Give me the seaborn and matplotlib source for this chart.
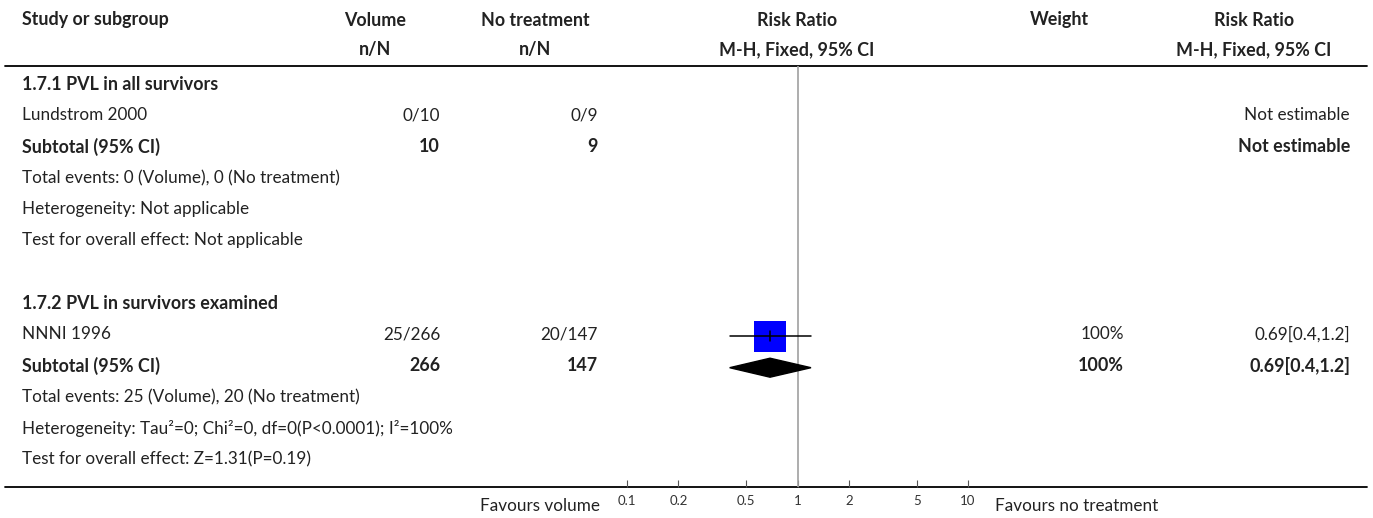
import numpy as np
import pandas as pd
import matplotlib
matplotlib.use("Agg")
import matplotlib.pyplot as plt
import seaborn as sns
from matplotlib.patches import Polygon

sns.set_style("white")
plt.rcParams['font.family'] = ['Lato', 'DejaVu Sans']

# ---------------- data ----------------
headers1 = ["Study or subgroup", "Volume", "No treatment", "Risk Ratio", "Weight", "Risk Ratio"]
headers2 = ["", "n/N", "n/N", "M-H, Fixed, 95% CI", "", "M-H, Fixed, 95% CI"]

group_titles = ["1.7.1 PVL in all survivors", "1.7.2 PVL in survivors examined"]
studies = ["Lundstrom 2000", "NNNI 1996"]
vol_events = [0, 25]
vol_total = [10, 266]
ctl_events = [0, 20]
ctl_total = [9, 147]
study_rr = [np.nan, 0.69]
study_lo = [np.nan, 0.4]
study_hi = [np.nan, 1.2]
study_weight = ["", "100%"]
study_effect_text = ["Not estimable", "0.69[0.4,1.2]"]

sub_vol_total = [10, 266]
sub_ctl_total = [9, 147]
sub_rr = [np.nan, 0.69]
sub_lo = [np.nan, 0.4]
sub_hi = [np.nan, 1.2]
sub_weight = ["", "100%"]
sub_effect_text = ["Not estimable", "0.69[0.4,1.2]"]

total_events = ["Total events: 0 (Volume), 0 (No treatment)",
                "Total events: 25 (Volume), 20 (No treatment)"]
heterogeneity = ["Heterogeneity: Not applicable",
                 "Heterogeneity: Tau\u00b2=0; Chi\u00b2=0, df=0(P<0.0001); I\u00b2=100%"]
overall_effect = ["Test for overall effect: Not applicable",
                  "Test for overall effect: Z=1.31(P=0.19)"]

xticks = [0.1, 0.2, 0.5, 1, 2, 5, 10]
xtick_labels = ["0.1", "0.2", "0.5", "1", "2", "5", "10"]
favours_left = "Favours volume"
favours_right = "Favours no treatment"

# ---------------- layout ----------------
W, H = 1373, 518
fig = plt.figure(figsize=(W / 100, H / 100), dpi=100)
tax = fig.add_axes([0, 0, 1, 1])
tax.set_xlim(0, W)
tax.set_ylim(H, 0)
tax.axis("off")

row0_y = 84.0
row_h = 31.3
def ry(i):
    return row0_y + row_h * i

col_study = 22
col_vol_c, col_vol = 375, 440
col_ctl_c, col_ctl = 535, 598
col_rr = 797
col_w_c, col_w = 1059, 1124
col_eff_c, col_eff = 1254, 1350

FS = 12.3
FSB = 12.9
txt = dict(color="#222222", va="center")
reg = dict(fontsize=FS, **txt)
bold = dict(fontsize=FSB, fontweight="bold", **txt)

# headers
hy1, hy2 = 20, 50
tax.text(col_study, hy1, headers1[0], ha="left", **bold)
tax.text(col_vol_c, hy1, headers1[1], ha="center", **bold)
tax.text(col_ctl_c, hy1, headers1[2], ha="center", **bold)
tax.text(col_rr, hy1, headers1[3], ha="center", **bold)
tax.text(col_w_c, hy1, headers1[4], ha="center", **bold)
tax.text(col_eff_c, hy1, headers1[5], ha="center", **bold)
tax.text(col_vol_c, hy2, headers2[1], ha="center", **bold)
tax.text(col_ctl_c, hy2, headers2[2], ha="center", **bold)
tax.text(col_rr, hy2, headers2[3], ha="center", **bold)
tax.text(col_eff_c, hy2, headers2[5], ha="center", **bold)

line_top, line_bot = 66, 487
tax.plot([5, 1367], [line_top, line_top], color="black", lw=1.3)
tax.plot([5, 1367], [line_bot, line_bot], color="black", lw=1.3)

# rows
for g in range(2):
    base = 7 * g
    tax.text(col_study, ry(base), group_titles[g], ha="left", **bold)
    tax.text(col_study, ry(base + 1), studies[g], ha="left", **reg)
    tax.text(col_vol, ry(base + 1), f"{vol_events[g]}/{vol_total[g]}", ha="right", **reg)
    tax.text(col_ctl, ry(base + 1), f"{ctl_events[g]}/{ctl_total[g]}", ha="right", **reg)
    tax.text(col_w, ry(base + 1), study_weight[g], ha="right", **reg)
    tax.text(col_eff, ry(base + 1), study_effect_text[g], ha="right", **reg)
    tax.text(col_study, ry(base + 2), "Subtotal (95% CI)", ha="left", **bold)
    tax.text(col_vol, ry(base + 2), f"{sub_vol_total[g]}", ha="right", **bold)
    tax.text(col_ctl, ry(base + 2), f"{sub_ctl_total[g]}", ha="right", **bold)
    tax.text(col_w, ry(base + 2), sub_weight[g], ha="right", **bold)
    tax.text(col_eff, ry(base + 2), sub_effect_text[g], ha="right", **bold)
    tax.text(col_study, ry(base + 3), total_events[g], ha="left", **reg)
    tax.text(col_study, ry(base + 4), heterogeneity[g], ha="left", **reg)
    tax.text(col_study, ry(base + 5), overall_effect[g], ha="left", **reg)

tax.text(600, 506, favours_left, ha="right", **reg)
tax.text(995, 506, favours_right, ha="left", **reg)

# ---------------- forest axes ----------------
x0, x1 = 627, 968
fax = fig.add_axes([x0 / W, 1 - line_bot / H, (x1 - x0) / W, (line_bot - line_top) / H])
fax.patch.set_alpha(0)
fax.set_xscale("log")
fax.set_xlim(0.1, 10)
fax.set_ylim(line_bot, line_top)
for s in ["top", "left", "right", "bottom"]:
    fax.spines[s].set_visible(False)
fax.set_yticks([])
fax.set_xticks(xticks)
fax.set_xticklabels(xtick_labels)
fax.xaxis.set_minor_locator(matplotlib.ticker.NullLocator())
fax.tick_params(axis="x", direction="in", length=5, width=0.8, color="#555555",
                labelsize=9.5, labelcolor="#333333", pad=6, bottom=True)

fax.axvline(1, color="#a0a0a0", lw=1.2, zorder=1)

# study points
df = pd.DataFrame({"rr": study_rr, "lo": study_lo, "hi": study_hi,
                   "y": [ry(1), ry(8)]}).dropna()
df["y"] = df["y"] + 2
for _, r in df.iterrows():
    fax.plot([r.lo, r.hi], [r.y, r.y], color="black", lw=1.1, zorder=3)
sns.scatterplot(data=df, x="rr", y="y", marker="s", s=500, color="#0000ff",
                edgecolor="none", ax=fax, zorder=2, legend=False)
for _, r in df.iterrows():
    fax.plot([r.rr, r.rr], [r.y - 5, r.y + 5], color="black", lw=1.1, zorder=4)

# subtotal diamonds
sdf = pd.DataFrame({"rr": sub_rr, "lo": sub_lo, "hi": sub_hi,
                    "y": [ry(2), ry(9)]}).dropna()
for _, r in sdf.iterrows():
    yc = r.y + 2
    fax.add_patch(Polygon([(r.lo, yc), (r.rr, yc - 9.5), (r.hi, yc), (r.rr, yc + 9.5)],
                          closed=True, facecolor="black", edgecolor="black", zorder=3))
fax.set_xlabel("")
fax.set_ylabel("")

fig.savefig("out.png", dpi=100)
